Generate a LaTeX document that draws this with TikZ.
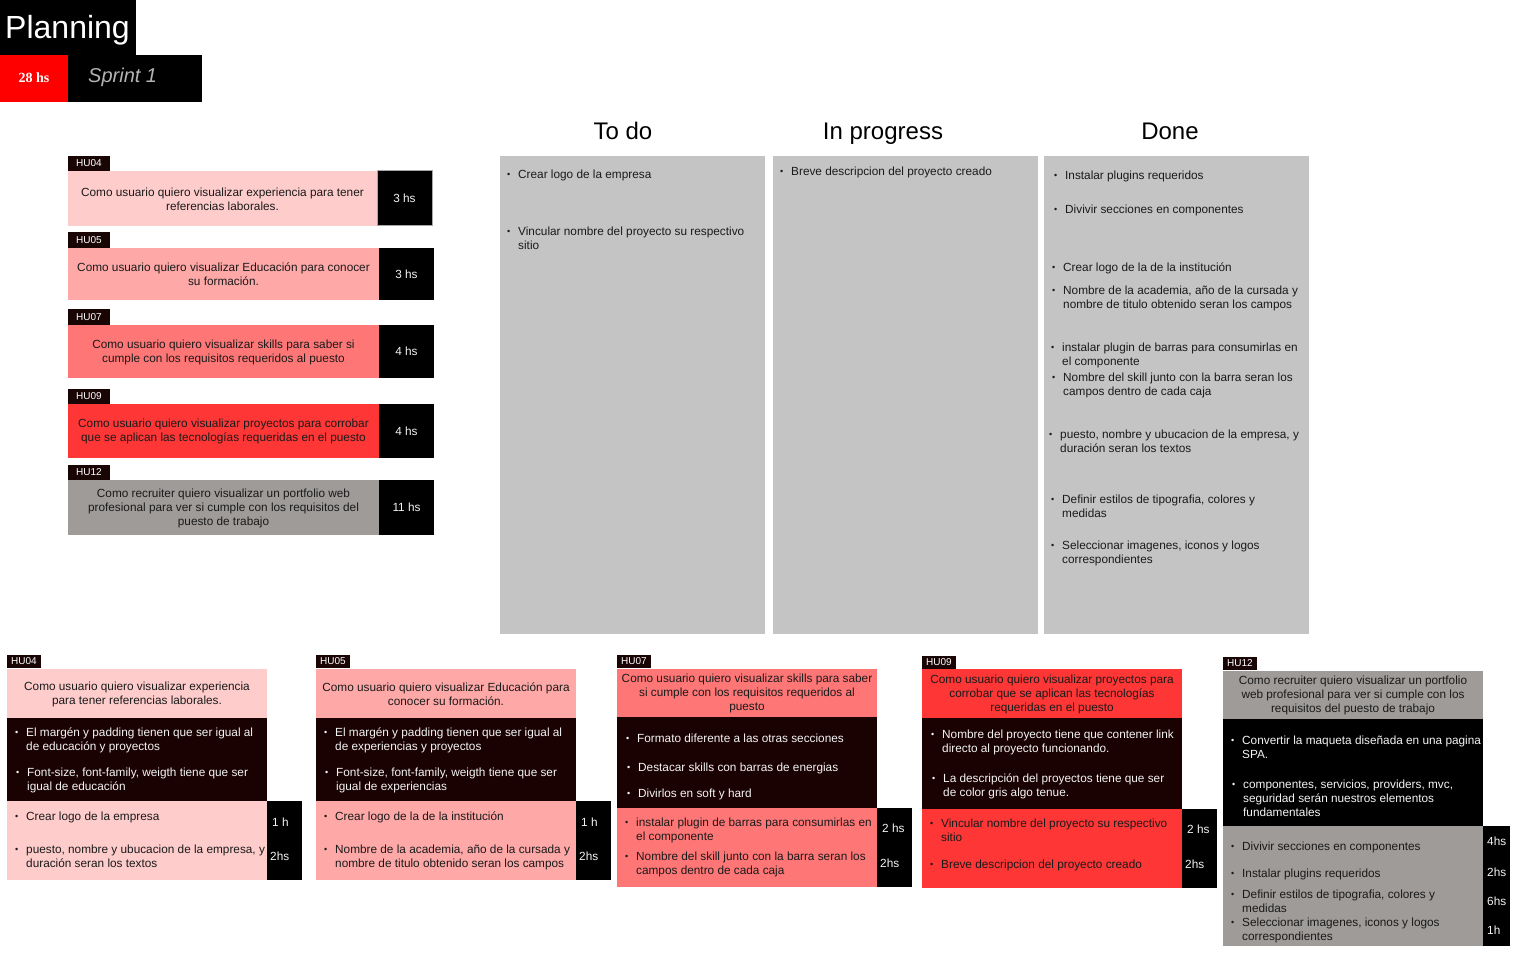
\documentclass[tikz,border=0pt]{standalone}
\usepackage{fontspec}
\setmainfont{Liberation Sans}
\newfontfamily\serifface{Liberation Serif}
\definecolor{hua}{HTML}{FFCCCC}
\definecolor{hub}{HTML}{FFA8A8}
\definecolor{huc}{HTML}{FF7676}
\definecolor{hud}{HTML}{FF3636}
\definecolor{hue}{HTML}{9E9B99}
\definecolor{colg}{HTML}{C4C4C4}
\definecolor{darkb}{HTML}{1A0202}
\definecolor{tagc}{HTML}{1A0505}
\definecolor{ink}{HTML}{1A1A1A}
\definecolor{paper}{HTML}{F4F4F4}
\definecolor{sprintc}{HTML}{B4B4B4}
\newlength\bulw \setlength\bulw{11pt}
\newcommand\mybul{\makebox[\bulw][l]{\raisebox{0.6pt}{\fontsize{9}{9}\selectfont •}}}
\newcommand\myind{\hspace*{\bulw}}
\newcommand\bodyf{\fontsize{11.8}{14}\selectfont}
\tikzset{
  box/.style={anchor=north west, inner sep=0pt, outer sep=0pt, draw=none},
  tagbox/.style={box, fill=tagc, text=white, font=\fontsize{10}{11}\selectfont},
  card/.style={box, text=ink, align=center, font=\bodyf},
  hrsbox/.style={box, fill=black, text=paper, font=\bodyf},
  txt/.style={anchor=north west, inner sep=0pt, align=left, font=\bodyf, text=ink},
  wtxt/.style={txt, text=paper},
  hrs/.style={anchor=base west, inner sep=0pt, font=\bodyf, text=paper},
  ctitle/.style={anchor=base, inner sep=0pt, font=\fontsize{24}{28}\selectfont, text=black}
}
\begin{document}
\begin{tikzpicture}[x=1pt,y=-1pt]
\useasboundingbox (0,0) rectangle (1520,957);
\fill[white] (0,0) rectangle (1520,957);

% header
\node[box, fill=black, minimum width=136pt, minimum height=55pt] (plan) at (0,0) {};
\node[anchor=base, inner sep=0pt, text=white, font=\fontsize{32}{36}\selectfont] (plantxt) at (67.5,39) {Planning};
\node[box, fill=red, minimum width=68pt, minimum height=47pt] (hrsall) at (0,55) {};
\node[anchor=base, inner sep=0pt, text=white, font=\serifface\bfseries\fontsize{14}{16}\selectfont] (hrsalltxt) at (34,83) {28 hs};
\node[box, fill=black, minimum width=134pt, minimum height=47pt] (sprint) at (68,55) {};
\node[anchor=base west, inner sep=0pt, text=sprintc, font=\itshape\fontsize{20}{24}\selectfont] (sprinttxt) at (88,83) {Sprint 1};

% left list
\node[tagbox, minimum width=42pt, minimum height=15pt] (lt4) at (68,156) {HU04};
\node[card, fill=hua, minimum width=309pt, minimum height=55pt] (lc4) at (68,171) {\strut Como usuario quiero visualizar experiencia para tener\\referencias laborales.};
\node[hrsbox, draw=gray!70, line width=1pt, minimum width=55pt, minimum height=55pt] (lh4) at (377,171) {3 hs};

\node[tagbox, minimum width=42pt, minimum height=16pt] (lt5) at (68,232) {HU05};
\node[card, fill=hub, minimum width=311pt, minimum height=52pt] (lc5) at (68,248) {\strut Como usuario quiero visualizar Educación para conocer\\su formación.};
\node[hrsbox, minimum width=55pt, minimum height=52pt] (lh5) at (379,248) {3 hs};

\node[tagbox, minimum width=42pt, minimum height=16pt] (lt7) at (68,309) {HU07};
\node[card, fill=huc, minimum width=311pt, minimum height=53pt] (lc7) at (68,325) {\strut Como usuario quiero visualizar skills para saber si\\cumple con los requisitos requeridos al puesto};
\node[hrsbox, minimum width=55pt, minimum height=53pt] (lh7) at (379,325) {4 hs};

\node[tagbox, minimum width=42pt, minimum height=15pt] (lt9) at (68,389) {HU09};
\node[card, fill=hud, minimum width=311pt, minimum height=54pt] (lc9) at (68,404) {\strut Como usuario quiero visualizar proyectos para corrobar\\que se aplican las tecnologías requeridas en el puesto};
\node[hrsbox, minimum width=55pt, minimum height=54pt] (lh9) at (379,404) {4 hs};

\node[tagbox, minimum width=42pt, minimum height=15pt] (lt12) at (68,465) {HU12};
\node[card, fill=hue, minimum width=311pt, minimum height=55pt] (lc12) at (68,480) {\strut Como recruiter quiero visualizar un portfolio web\\profesional para ver si cumple con los requisitos del\\puesto de trabajo};
\node[hrsbox, minimum width=55pt, minimum height=55pt] (lh12) at (379,480) {11 hs};

% kanban
\node[ctitle] (ttodo) at (623,140) {To do};
\node[ctitle] (tprog) at (883,140) {In progress};
\node[ctitle] (tdone) at (1170,140) {Done};
\node[box, fill=colg, minimum width=265pt, minimum height=478pt] (ctodo) at (500,156) {};
\node[box, fill=colg, minimum width=265pt, minimum height=478pt] (cprog) at (773,156) {};
\node[box, fill=colg, minimum width=265pt, minimum height=478pt] (cdone) at (1044,156) {};

\node[txt] (td1) at (507,168.5) {\mybul\strut Crear logo de la empresa};
\node[txt] (td2) at (507,225.5) {\mybul\strut Vincular nombre del proyecto su respectivo\\\myind sitio};
\node[txt] (ip1) at (780,165.5) {\mybul\strut Breve descripcion del proyecto creado};
\node[txt] (dn1) at (1054,169.5) {\mybul\strut Instalar plugins requeridos};
\node[txt] (dn2) at (1054,203.5) {\mybul\strut Divivir secciones en componentes};
\node[txt] (dn3) at (1052,261.5) {\mybul\strut Crear logo de la de la institución};
\node[txt] (dn4) at (1052,284.5) {\mybul\strut Nombre de la academia, año de la cursada y\\\myind nombre de titulo obtenido seran los campos};
\node[txt] (dn5) at (1051,341.5) {\mybul\strut instalar plugin de barras para consumirlas en\\\myind el componente};
\node[txt] (dn6) at (1052,371.5) {\mybul\strut Nombre del skill junto con la barra seran los\\\myind campos dentro de cada caja};
\node[txt] (dn7) at (1049,428.5) {\mybul\strut puesto, nombre y ubucacion de la empresa, y\\\myind duración seran los textos};
\node[txt] (dn8) at (1051,493.5) {\mybul\strut Definir estilos de tipografia, colores y\\\myind medidas};
\node[txt] (dn9) at (1051,539.5) {\mybul\strut Seleccionar imagenes, iconos y logos\\\myind correspondientes};

% bottom card 1
\node[tagbox, minimum width=34pt, minimum height=13pt] (bt1) at (7,655) {HU04};
\node[card, fill=hua, minimum width=260pt, minimum height=49pt] (bh1) at (7,669) {\strut Como usuario quiero visualizar experiencia\\para tener referencias laborales.};
\node[box, fill=darkb, minimum width=260pt, minimum height=83pt] (bd1) at (7,718) {};
\node[box, fill=hua, minimum width=260pt, minimum height=79pt] (bb1) at (7,801) {};
\node[box, fill=black, minimum width=35pt, minimum height=79pt] (bx1) at (267,801) {};
\node[wtxt] (b1d1) at (15,726.5) {\mybul\strut El margén y padding tienen que ser igual al\\\myind de educación y proyectos};
\node[wtxt] (b1d2) at (16,766.5) {\mybul\strut Font-size, font-family, weigth tiene que ser\\\myind igual de educación};
\node[txt] (b1i1) at (15,810.5) {\mybul\strut Crear logo de la empresa};
\node[txt] (b1i2) at (15,843.5) {\mybul\strut puesto, nombre y ubucacion de la empresa, y\\\myind duración seran los textos};
\node[hrs] (b1h1) at (272,826.3) {1 h};
\node[hrs] (b1h2) at (270,860.3) {2hs};

% bottom card 2
\node[tagbox, minimum width=34pt, minimum height=13pt] (bt2) at (316,655) {HU05};
\node[card, fill=hub, minimum width=260pt, minimum height=49pt] (bh2) at (316,669) {\strut Como usuario quiero visualizar Educación para\\conocer su formación.};
\node[box, fill=darkb, minimum width=260pt, minimum height=83pt] (bd2) at (316,718) {};
\node[box, fill=hub, minimum width=260pt, minimum height=79pt] (bb2) at (316,801) {};
\node[box, fill=black, minimum width=35pt, minimum height=79pt] (bx2) at (576,801) {};
\node[wtxt] (b2d1) at (324,726.5) {\mybul\strut El margén y padding tienen que ser igual al\\\myind de experiencias y proyectos};
\node[wtxt] (b2d2) at (325,766.5) {\mybul\strut Font-size, font-family, weigth tiene que ser\\\myind igual de experiencias};
\node[txt] (b2i1) at (324,810.5) {\mybul\strut Crear logo de la de la institución};
\node[txt] (b2i2) at (324,843.5) {\mybul\strut Nombre de la academia, año de la cursada y\\\myind nombre de titulo obtenido seran los campos};
\node[hrs] (b2h1) at (581,826.3) {1 h};
\node[hrs] (b2h2) at (579,860.3) {2hs};

% bottom card 3
\node[tagbox, minimum width=34pt, minimum height=13pt] (bt3) at (617,655) {HU07};
\node[card, fill=huc, minimum width=260pt, minimum height=48pt] (bh3) at (617,669) {\strut Como usuario quiero visualizar skills para saber\\si cumple con los requisitos requeridos al\\puesto};
\node[box, fill=darkb, minimum width=260pt, minimum height=91pt] (bd3) at (617,717) {};
\node[box, fill=huc, minimum width=260pt, minimum height=79pt] (bb3) at (617,808) {};
\node[box, fill=black, minimum width=35pt, minimum height=79pt] (bx3) at (877,808) {};
\node[wtxt] (b3d1) at (626,732.5) {\mybul\strut Formato diferente a las otras secciones};
\node[wtxt] (b3d2) at (627,761.5) {\mybul\strut Destacar skills con barras de energias};
\node[wtxt] (b3d3) at (627,787.5) {\mybul\strut Divirlos en soft y hard};
\node[txt] (b3i1) at (625,816.5) {\mybul\strut instalar plugin de barras para consumirlas en\\\myind el componente};
\node[txt] (b3i2) at (625,850.5) {\mybul\strut Nombre del skill junto con la barra seran los\\\myind campos dentro de cada caja};
\node[hrs] (b3h1) at (882,832.3) {2 hs};
\node[hrs] (b3h2) at (880,867.3) {2hs};

% bottom card 4
\node[tagbox, minimum width=34pt, minimum height=13pt] (bt4) at (922,656) {HU09};
\node[card, fill=hud, minimum width=260pt, minimum height=49pt] (bh4) at (922,669) {\strut Como usuario quiero visualizar proyectos para\\corrobar que se aplican las tecnologías\\requeridas en el puesto};
\node[box, fill=darkb, minimum width=260pt, minimum height=91pt] (bd4) at (922,718) {};
\node[box, fill=hud, minimum width=260pt, minimum height=79pt] (bb4) at (922,809) {};
\node[box, fill=black, minimum width=35pt, minimum height=79pt] (bx4) at (1182,809) {};
\node[wtxt] (b4d1) at (931,728.5) {\mybul\strut Nombre del proyecto tiene que contener link\\\myind directo al proyecto funcionando.};
\node[wtxt] (b4d2) at (932,772.5) {\mybul\strut La descripción del proyectos tiene que ser\\\myind de color gris algo tenue.};
\node[txt] (b4i1) at (930,817.5) {\mybul\strut Vincular nombre del proyecto su respectivo\\\myind sitio};
\node[txt] (b4i2) at (930,858.5) {\mybul\strut Breve descripcion del proyecto creado};
\node[hrs] (b4h1) at (1187,833.3) {2 hs};
\node[hrs] (b4h2) at (1185,868.3) {2hs};

% bottom card 5
\node[tagbox, minimum width=34pt, minimum height=13pt] (bt5) at (1223,657) {HU12};
\node[card, fill=hue, minimum width=260pt, minimum height=48pt] (bh5) at (1223,671) {\strut Como recruiter quiero visualizar un portfolio\\web profesional para ver si cumple con los\\requisitos del puesto de trabajo};
\node[box, fill=black, minimum width=260pt, minimum height=107pt] (bd5) at (1223,719) {};
\node[box, fill=hue, minimum width=260pt, minimum height=120pt] (bb5) at (1223,826) {};
\node[box, fill=black, minimum width=27pt, minimum height=120pt] (bx5) at (1483,826) {};
\node[wtxt] (b5d1) at (1231,734.5) {\mybul\strut Convertir la maqueta diseñada en una pagina\\\myind SPA.};
\node[wtxt] (b5d2) at (1232,778.5) {\mybul\strut componentes, servicios, providers, mvc,\\\myind seguridad serán nuestros elementos\\\myind fundamentales};
\node[txt] (b5i1) at (1231,840.5) {\mybul\strut Divivir secciones en componentes};
\node[txt] (b5i2) at (1231,867.5) {\mybul\strut Instalar plugins requeridos};
\node[txt] (b5i3) at (1231,888.5) {\mybul\strut Definir estilos de tipografia, colores y\\\myind medidas};
\node[txt] (b5i4) at (1231,916.5) {\mybul\strut Seleccionar imagenes, iconos y logos\\\myind correspondientes};
\node[hrs] (b5h1) at (1487,845.3) {4hs};
\node[hrs] (b5h2) at (1487,876.3) {2hs};
\node[hrs] (b5h3) at (1487,905.3) {6hs};
\node[hrs] (b5h4) at (1487,934.3) {1h};
\end{tikzpicture}
\end{document}
